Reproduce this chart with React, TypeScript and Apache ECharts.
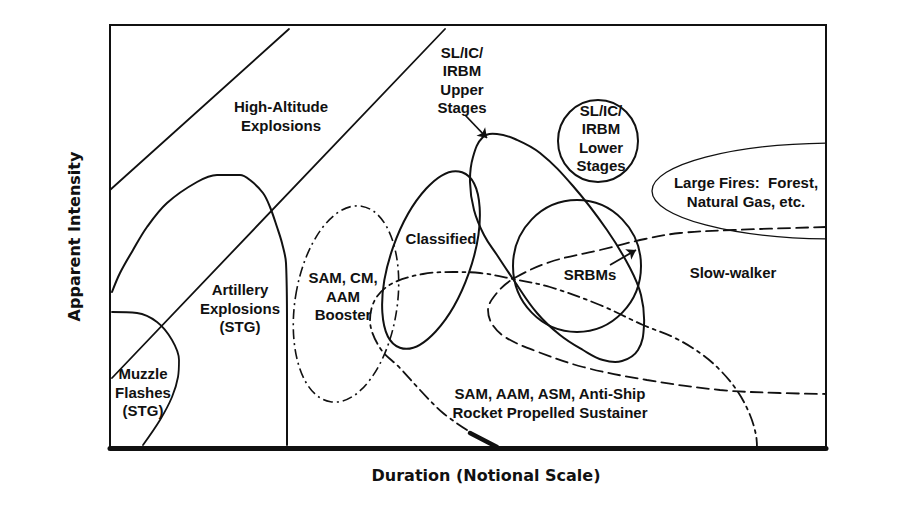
import React, { useEffect, useRef } from "react";
import * as echarts from "echarts";

// Notional axes (no ticks): duration (x) and apparent intensity (y)
const X_MAX = 716;
const Y_MAX = 423;

// Boundary lines
const highAltitudeLine = [[0, 258], [179, 419]];
const artilleryBoundaryLine = [[335, 419], [2, 70]];

// Hand-drawn regions (open curves)
const artilleryCurve = [
  [2, 156], [10, 175], [23, 198], [37, 221], [57, 245], [87, 266], [107, 273],
  [130, 273], [140, 268], [153, 255], [160, 241], [167, 221], [172, 205],
  [176, 185], [177, 125], [177, 3],
];
const muzzleCurve = [
  [2, 136], [27, 135], [47, 126], [62, 108], [69, 88], [68, 71], [62, 51], [50, 28], [33, 3],
];
const slowWalkerOutline = [
  [716, 221], [623, 218], [570, 215], [535, 209], [490, 198], [440, 186], [403, 169],
  [386, 154], [378, 138], [382, 124], [395, 111], [423, 98], [473, 81], [537, 68],
  [610, 58], [670, 55], [716, 54],
];
const sustainerOutline = [
  [357, 18], [333, 35], [310, 58], [290, 80], [270, 100], [260, 128], [266, 150],
  [283, 165], [313, 174], [343, 176], [370, 175], [403, 169], [440, 161], [490, 143],
  [533, 123], [565, 110], [590, 95], [610, 78], [628, 56], [640, 33], [646, 13], [647, 0],
];
const sustainerThick = [[360, 15], [387, 1]];

// Closed region
const upperStagesOutline = [
  [373, 311], [387, 314], [405, 309], [430, 295], [463, 262], [497, 218], [520, 180],
  [531, 153], [534, 123], [528, 98], [512, 87], [493, 88], [473, 98], [450, 113],
  [427, 135], [403, 169], [387, 193], [374, 213], [364, 238], [360, 266], [363, 291],
];

// Ellipses: [centerX, centerY, radiusX, radiusY, rotationDeg]
const boosterEllipse = [236, 144, 51, 99, -9];
const classifiedEllipse = [321, 188, 40, 93, -19.5];
const srbmEllipse = [467, 182, 64, 66, 0];
const lowerStagesEllipse = [488, 307, 40, 41, 0];
const largeFiresEllipse = [725, 257, 183, 48, 0];

// Arrows: [from, to]
const arrowLines = [
  [[355, 333], [377, 310]],
  [[500, 183], [526, 198]],
];

// Region labels
const labelPositions = [
  [171, 332], [352, 368], [491, 310], [331, 210], [233, 152], [130, 140],
  [33, 56], [636, 256], [480, 174], [623, 176], [440, 45],
];
const labelTexts = [
  "High-Altitude\nExplosions",
  "SL/IC/\nIRBM\nUpper\nStages",
  "SL/IC/\nIRBM\nLower\nStages",
  "Classified",
  "SAM, CM,\nAAM\nBooster",
  "Artillery\nExplosions\n(STG)",
  "Muzzle\nFlashes\n(STG)",
  "Large Fires:  Forest,\nNatural Gas, etc.",
  "SRBMs",
  "Slow-walker",
  "SAM, AAM, ASM, Anti-Ship\nRocket Propelled Sustainer",
];

const INK = "#111";

function curve(name: string, data: number[][], width: number, dash: any, smooth: number) {
  return {
    type: "line",
    name,
    data,
    smooth,
    symbol: "none",
    showSymbol: false,
    silent: true,
    lineStyle: { color: INK, width, type: dash, cap: "round" },
    z: 3,
  };
}

function ellipse(name: string, e: number[], width: number, dash: any) {
  return {
    type: "custom",
    name,
    coordinateSystem: "cartesian2d",
    clip: true,
    silent: true,
    data: [e],
    z: 3,
    renderItem: (_p: any, api: any) => {
      const c = api.coord([api.value(0), api.value(1)]);
      const s = api.size([api.value(2), api.value(3)]);
      return {
        type: "ellipse",
        x: c[0],
        y: c[1],
        rotation: (api.value(4) * Math.PI) / 180,
        shape: { cx: 0, cy: 0, rx: s[0], ry: s[1] },
        style: { fill: "none", stroke: INK, lineWidth: width, lineDash: dash },
      };
    },
  };
}

export default function App() {
  const ref = useRef<HTMLDivElement>(null);
  useEffect(() => {
    if (!ref.current) return;
    const chart = echarts.init(ref.current, null, { renderer: "svg" });
    const option: any = {
      animation: false,
      backgroundColor: "#fff",
      grid: {
        left: 110, top: 25, right: 97, bottom: 58,
        show: true, borderColor: INK, borderWidth: 2, backgroundColor: "transparent",
      },
      xAxis: {
        type: "value", min: 0, max: X_MAX,
        name: "Duration (Notional Scale)",
        nameLocation: "middle",
        nameGap: 19,
        nameTextStyle: {
          fontFamily: "DejaVu Sans", fontWeight: "bold", fontSize: 16, color: INK,
          padding: [0, 0, 0, 36],
        },
        axisLine: { show: true, onZero: false, lineStyle: { color: INK, width: 5 } },
        axisTick: { show: false }, axisLabel: { show: false }, splitLine: { show: false },
      },
      yAxis: {
        type: "value", min: 0, max: Y_MAX,
        name: "Apparent Intensity",
        nameLocation: "middle",
        nameGap: 28,
        nameTextStyle: { fontFamily: "DejaVu Sans", fontWeight: "bold", fontSize: 16, color: INK },
        axisLine: { show: true, onZero: false, lineStyle: { color: INK, width: 2 } },
        axisTick: { show: false }, axisLabel: { show: false }, splitLine: { show: false },
      },
      series: [
        curve("High-Altitude boundary", highAltitudeLine, 1.8, "solid", 0),
        curve("Artillery boundary", artilleryBoundaryLine, 1.8, "solid", 0),
        curve("Artillery Explosions", artilleryCurve, 2, "solid", 0.35),
        curve("Muzzle Flashes", muzzleCurve, 1.8, "solid", 0.35),
        curve("Slow-walker", slowWalkerOutline, 1.8, [12, 6], 0.35),
        curve("Rocket Propelled Sustainer", sustainerOutline, 1.8, [12, 5, 3, 5], 0.35),
        curve("Sustainer edge", sustainerThick, 4.5, "solid", 0),
        {
          type: "custom",
          name: "Upper Stages",
          coordinateSystem: "cartesian2d",
          silent: true,
          data: upperStagesOutline,
          z: 3,
          renderItem: (p: any, api: any) => {
            if (p.dataIndex !== 0) return null;
            const pts = upperStagesOutline.map((d) => api.coord(d));
            return {
              type: "polygon",
              shape: { points: pts, smooth: 0.4 },
              style: { fill: "none", stroke: INK, lineWidth: 2 },
            };
          },
        },
        ellipse("SAM, CM, AAM Booster", boosterEllipse, 1.6, [10, 4, 2, 4]),
        ellipse("Classified", classifiedEllipse, 2, null),
        ellipse("SRBMs", srbmEllipse, 2, null),
        ellipse("Lower Stages", lowerStagesEllipse, 2, null),
        ellipse("Large Fires", largeFiresEllipse, 1.3, null),
        {
          type: "lines",
          name: "arrows",
          coordinateSystem: "cartesian2d",
          silent: true,
          symbol: ["none", "arrow"],
          symbolSize: 9,
          lineStyle: { color: INK, width: 1.8, opacity: 1 },
          data: arrowLines.map((c) => ({ coords: c })),
          z: 4,
        },
        {
          type: "custom",
          name: "labels",
          coordinateSystem: "cartesian2d",
          silent: true,
          data: labelPositions,
          z: 5,
          renderItem: (p: any, api: any) => {
            const c = api.coord([api.value(0), api.value(1)]);
            return {
              type: "text",
              x: c[0],
              y: c[1],
              style: {
                text: labelTexts[p.dataIndex],
                fill: INK,
                font: 'bold 15px "Liberation Sans", Arial, sans-serif',
                align: "center",
                verticalAlign: "middle",
                lineHeight: 18.5,
              },
            };
          },
        },
      ],
    };
    chart.setOption(option);
    return () => chart.dispose();
  }, []);
  return (
    <div
      ref={ref}
      style={{ position: "fixed", left: 0, top: 0, width: 923, height: 506, background: "#fff" }}
    />
  );
}
